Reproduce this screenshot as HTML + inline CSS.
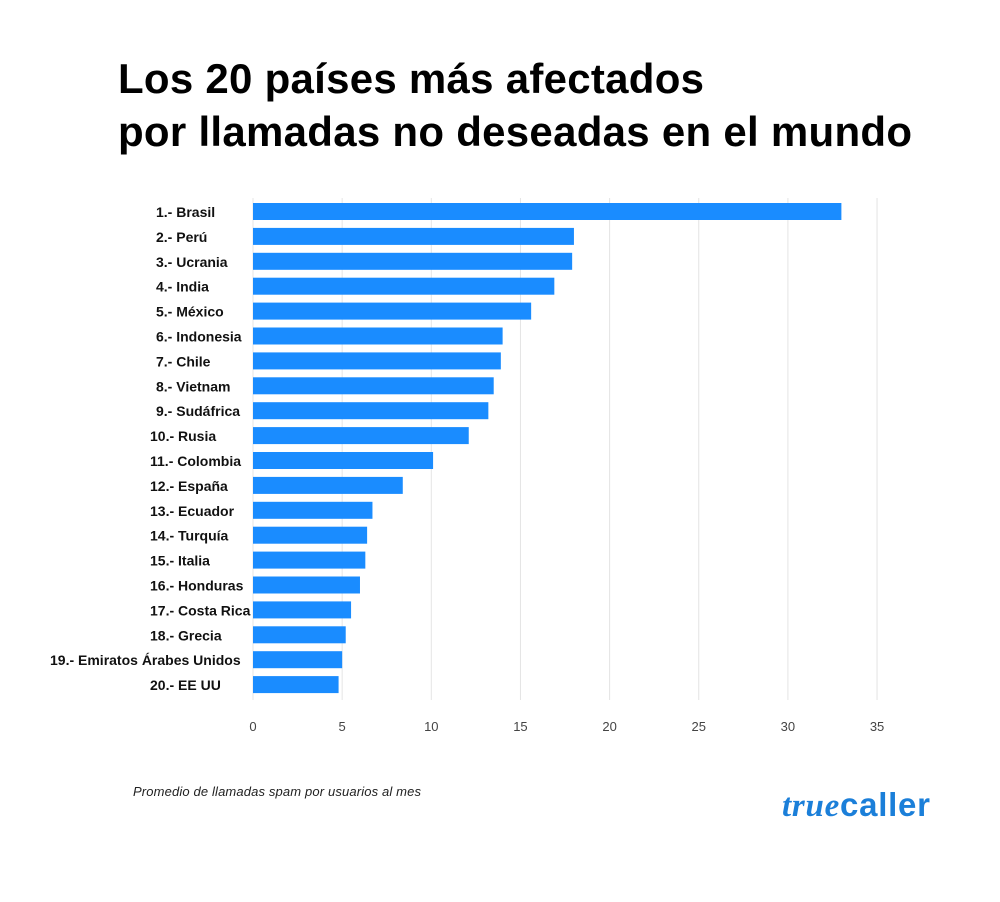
<!DOCTYPE html>
<html><head><meta charset="utf-8"><style>
body{margin:0;background:#fff;width:1000px;height:897px;overflow:hidden;font-family:"Liberation Sans",Arial,sans-serif}
</style></head><body>
<svg id="chart" width="1000" height="897" xmlns="http://www.w3.org/2000/svg">
<text x="118" y="93" font-size="42" font-weight="bold" fill="#000" textLength="586">Los 20 países más afectados</text>
<text x="118" y="146" font-size="42" font-weight="bold" fill="#000" textLength="794">por llamadas no deseadas en el mundo</text>
<g id="grid"></g>
<g id="bars"></g>
<g id="labels"></g>
<g id="ticks"></g>
<text x="133" y="796" font-size="13" font-style="italic" fill="#222" textLength="288">Promedio de llamadas spam por usuarios al mes</text>
<text x="782" y="816" font-size="33" font-weight="bold" fill="#1b7fd9" textLength="148"><tspan font-style="italic" font-family="'Liberation Serif',serif">true</tspan>caller</text>
</svg>
<script>
const categories=["1.- Brasil","2.- Perú","3.- Ucrania","4.- India","5.- México","6.- Indonesia","7.- Chile","8.- Vietnam","9.- Sudáfrica","10.- Rusia","11.- Colombia","12.- España","13.- Ecuador","14.- Turquía","15.- Italia","16.- Honduras","17.- Costa Rica","18.- Grecia","19.- Emiratos Árabes Unidos","20.- EE UU"];
const values=[33.0,18.0,17.9,16.9,15.6,14.0,13.9,13.5,13.2,12.1,10.1,8.4,6.7,6.4,6.3,6.0,5.5,5.2,5.0,4.8];
const tickValues=[0,5,10,15,20,25,30,35];
const ns="http://www.w3.org/2000/svg";
const x0=253,pxPerUnit=17.83,rowTop=203,rowStep=24.9,barH=17;
const xScale=v=>x0+v*pxPerUnit;
const yScale=i=>rowTop+i*rowStep;
function mk(tag,attrs,parent){const e=document.createElementNS(ns,tag);for(const k in attrs)e.setAttribute(k,attrs[k]);document.getElementById(parent).appendChild(e);return e;}
tickValues.forEach(t=>{
  const l=mk("line",{x1:xScale(t),x2:xScale(t),y1:198,y2:700,stroke:"#e4e4e4","stroke-width":1},"grid");
  
  
  const tx=mk("text",{x:xScale(t),y:731,"font-size":13,fill:"#444","text-anchor":"middle"},"ticks");
  tx.textContent=t;
  
  
});
categories.forEach((c,i)=>{
  const r=mk("rect",{x:x0,y:yScale(i),width:xScale(values[i])-x0,height:barH,fill:"#1a8cff"},"bars");
  
  
  const t=mk("text",{x:c.length>20?50:(i<9?156:150),y:yScale(i)+14,"font-size":14,"font-weight":"bold",fill:"#111"},"labels");
  t.textContent=c;
  
  
});
</script>
</body></html>
